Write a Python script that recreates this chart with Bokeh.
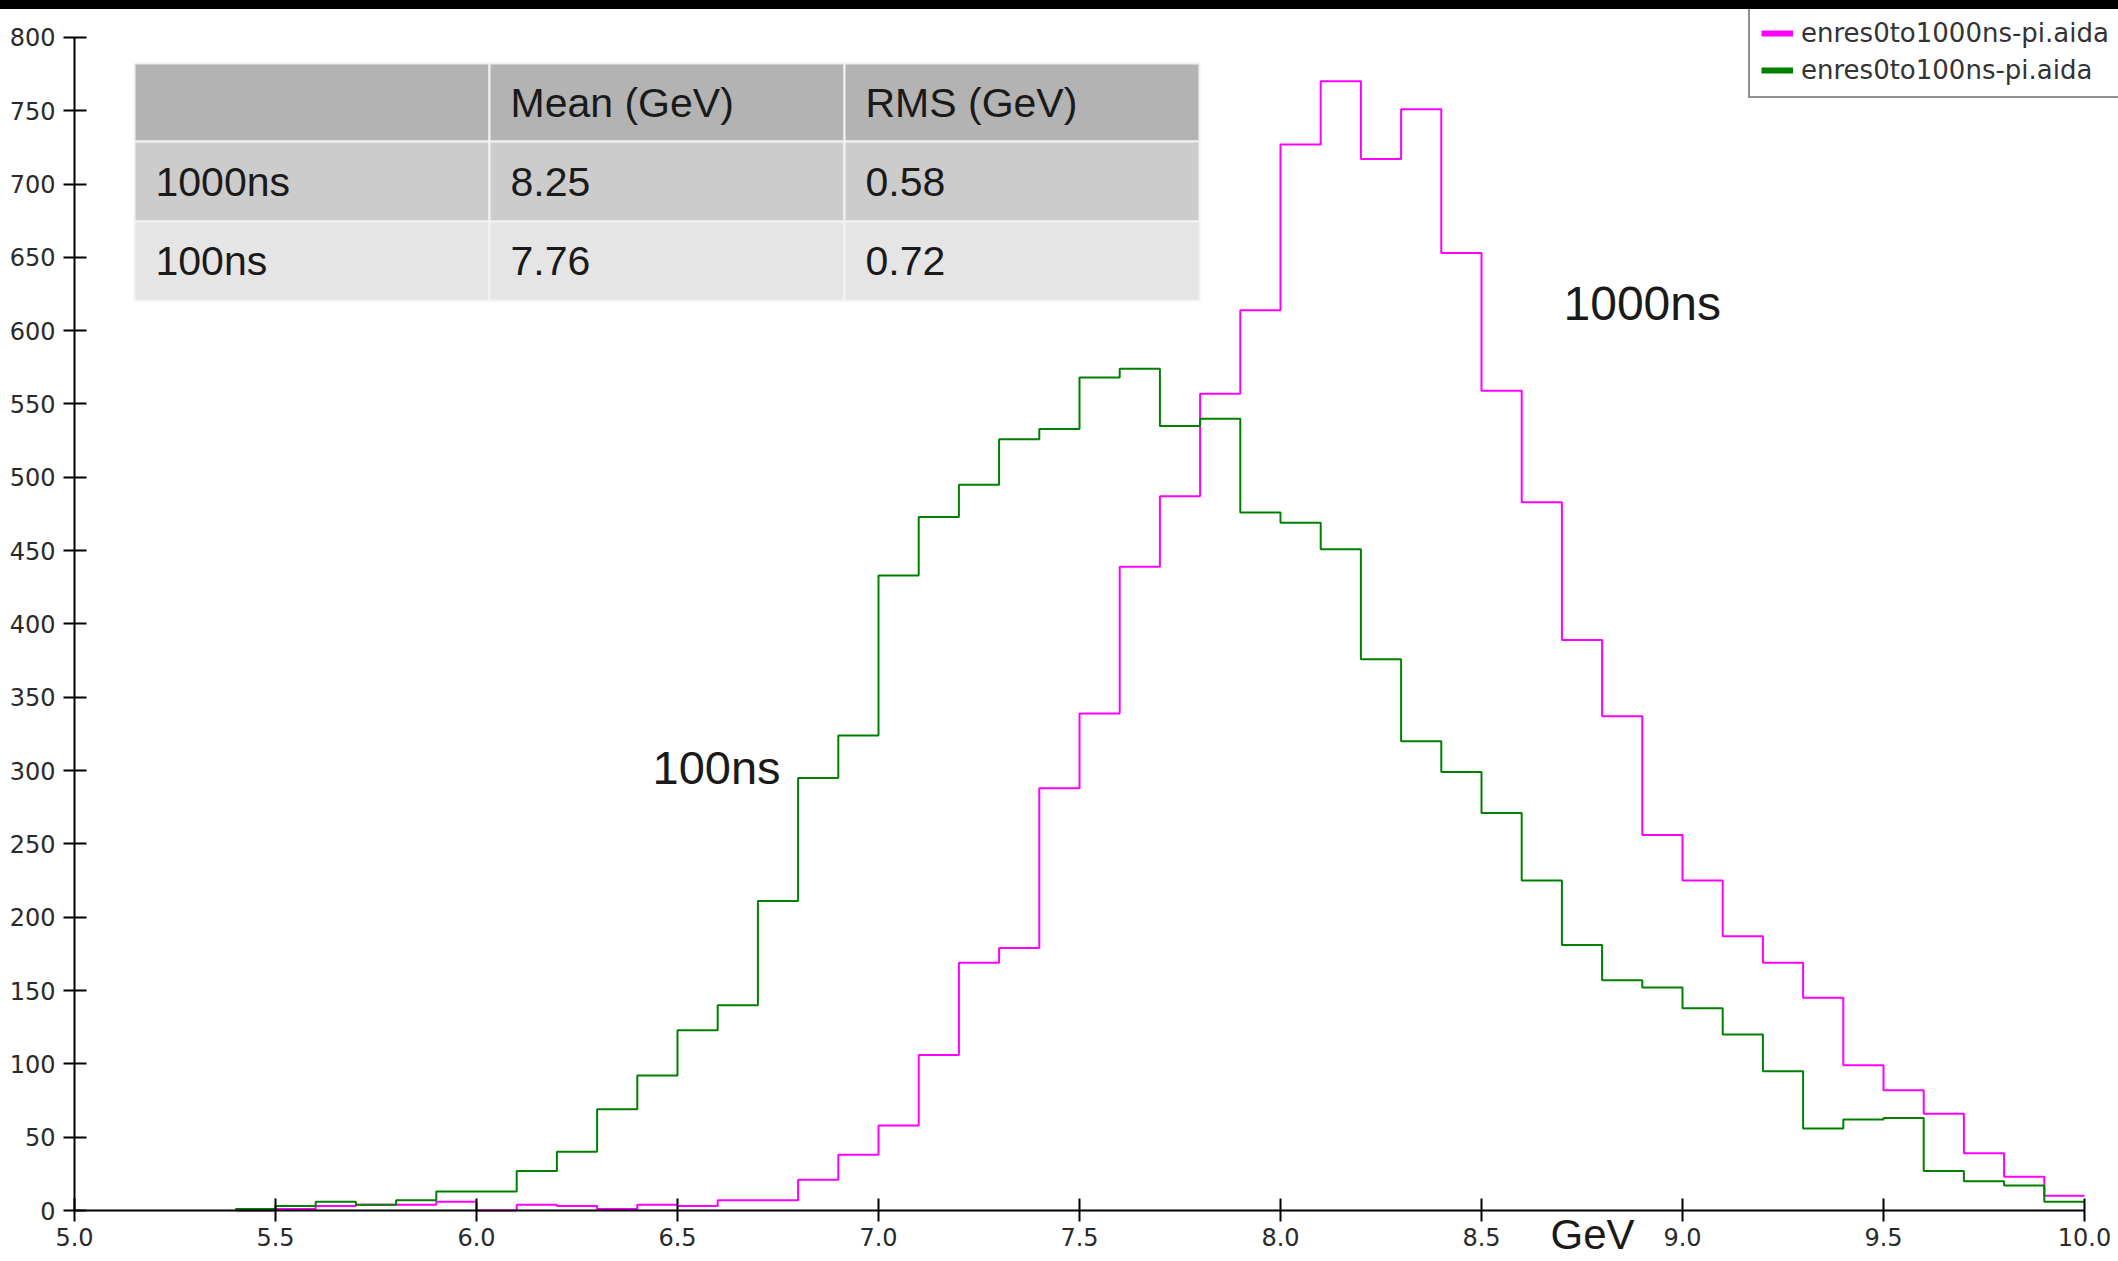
from bokeh.plotting import figure
from bokeh.models import (Range1d, Div, Legend, LegendItem, Label, ColumnDataSource,
                          SingleIntervalTicker, PrintfTickFormatter)
from bokeh.layouts import column
from bokeh.core.properties import value
from bokeh.embed import file_html
from bokeh.resources import INLINE

# ---------------- data ----------------
bin_lo = [5.4, 5.5, 5.6, 5.7, 5.8, 5.9, 6.0, 6.1, 6.2, 6.3, 6.4, 6.5, 6.6, 6.7, 6.8, 6.9,
          7.0, 7.1, 7.2, 7.3, 7.4, 7.5, 7.6, 7.7, 7.8, 7.9, 8.0, 8.1, 8.2, 8.3, 8.4, 8.5,
          8.6, 8.7, 8.8, 8.9, 9.0, 9.1, 9.2, 9.3, 9.4, 9.5, 9.6, 9.7, 9.8, 9.9]
bin_hi_last = 10.0

counts_1000ns = [0, 1, 3, 4, 4, 6, 0, 4, 3, 1, 4, 3, 7, 7, 21, 38,
                 58, 106, 169, 179, 288, 339, 439, 487, 557, 614, 727, 770, 717, 751, 653, 559,
                 483, 389, 337, 256, 225, 187, 169, 145, 99, 82, 66, 39, 23, 10]
counts_100ns = [1, 3, 6, 4, 7, 13, 13, 27, 40, 69, 92, 123, 140, 211, 295, 324,
                433, 473, 495, 526, 533, 568, 574, 535, 540, 476, 469, 451, 376, 320, 299, 271,
                225, 181, 157, 152, 138, 120, 95, 56, 62, 63, 27, 20, 17, 6]

series_names = ["enres0to1000ns-pi.aida", "enres0to100ns-pi.aida"]

table_header = ["", "Mean (GeV)", "RMS (GeV)"]
table_rows = ["1000ns", "100ns"]
table_mean = ["8.25", "7.76"]
table_rms = ["0.58", "0.72"]

curve_labels = ["100ns", "1000ns"]
x_unit = "GeV"

# ---------------- layout (pixels) ----------------
W = 2118
H_PAGE = 1261
BAND = 9
H_FIG = H_PAGE - BAND
AXIS_X_PX = 74              # page x of 5.0 GeV
ZERO_FULL = 1210            # page y of value 0
X0, X_PER_PX = 5.0, 1.0 / 402.0
Y_PER_PX = 1.0 / 1.4664


def px_x(full_x):
    return X0 + (full_x - AXIS_X_PX) * X_PER_PX


def px_y(full_y):
    return (ZERO_FULL - full_y) * Y_PER_PX


BODY = "Liberation Sans"
TICKFONT = "DejaVu Sans"

p = figure(width=W, height=H_FIG, output_backend="svg", toolbar_location=None,
           x_range=Range1d(px_x(0), px_x(W)), y_range=Range1d(px_y(H_PAGE), px_y(BAND)),
           min_border=0)
p.outline_line_color = None
p.xgrid.visible = False
p.ygrid.visible = False
p.background_fill_color = "white"
p.border_fill_color = "white"

# ---------------- histograms ----------------
x_steps = bin_lo + [bin_hi_last]
p.step(x_steps, counts_1000ns + [counts_1000ns[-1]], mode="after",
       line_color="#ff00ff", line_width=2)
p.step(x_steps, counts_100ns + [counts_100ns[-1]], mode="after",
       line_color="#008000", line_width=2)

# ---------------- axes ----------------
xa = p.xaxis[0]
xa.ticker = SingleIntervalTicker(interval=0.5)
xa.formatter = PrintfTickFormatter(format="%.1f")
xa.bounds = (5.0, 10.0)
xa.fixed_location = 0
ya = p.yaxis[0]
ya.ticker = SingleIntervalTicker(interval=50)
ya.bounds = (0, 800)
ya.fixed_location = 5.0
for ax, so in ((xa, 6), (ya, 8)):
    ax.axis_line_color = "black"
    ax.axis_line_width = 2
    ax.major_tick_line_color = "black"
    ax.major_tick_line_width = 2
    ax.major_tick_in = 12
    ax.major_tick_out = 11
    ax.minor_tick_line_color = None
    ax.major_label_text_font = TICKFONT
    ax.major_label_text_font_size = "24px"
    ax.major_label_text_color = "#2a2a2a"
    ax.major_label_standoff = so

# ---------------- stats table ----------------
col_edges = [134, 489, 844, 1199]
row_edges = [63, 141, 221, 300]
row_fills = ["#b3b3b3", "#cccccc", "#e5e5e5"]
cells = dict(left=[], right=[], top=[], bottom=[], fill=[])
for r in range(3):
    for c in range(3):
        cells["left"].append(px_x(col_edges[c]))
        cells["right"].append(px_x(col_edges[c + 1]))
        cells["top"].append(px_y(row_edges[r]))
        cells["bottom"].append(px_y(row_edges[r + 1]))
        cells["fill"].append(row_fills[r])
p.quad(left="left", right="right", top="top", bottom="bottom", fill_color="fill",
       line_color="#f2f2f2", line_width=2, source=ColumnDataSource(cells))

table_text = [table_header,
              [table_rows[0], table_mean[0], table_rms[0]],
              [table_rows[1], table_mean[1], table_rms[1]]]
tt = dict(x=[], y=[], text=[])
for r in range(3):
    for c in range(3):
        if table_text[r][c]:
            tt["x"].append(px_x(col_edges[c] + 21))
            tt["y"].append(px_y((row_edges[r] + row_edges[r + 1]) / 2))
            tt["text"].append(table_text[r][c])
p.text(x="x", y="y", text="text", source=ColumnDataSource(tt),
       text_font=value(BODY), text_font_size="41px", text_color="#1a1a1a",
       text_align="left", text_baseline="middle")

# ---------------- curve labels ----------------
p.add_layout(Label(x=px_x(652), y=px_y(767), text=curve_labels[0], text_font=BODY,
                   text_font_size="47px", text_color="#1a1a1a", text_baseline="middle"))
p.add_layout(Label(x=px_x(1563), y=px_y(303), text=curve_labels[1], text_font=BODY,
                   text_font_size="48px", text_color="#1a1a1a", text_baseline="middle"))
p.add_layout(Label(x=px_x(1550), y=px_y(1234), text=x_unit, text_font=BODY,
                   text_font_size="42px", text_color="#1a1a1a", text_baseline="middle"))

# ---------------- legend ----------------
off_x = [0.0, 0.1]
off_y = [-500.0, -500.0]
dm = p.line(off_x, off_y, line_color="#ff00ff", line_width=6)
dg = p.line(off_x, off_y, line_color="#008000", line_width=6)
legend = Legend(items=[LegendItem(label=series_names[0], renderers=[dm]),
                       LegendItem(label=series_names[1], renderers=[dg])],
                location=(1748, H_PAGE - 98), margin=0,
                glyph_width=32, glyph_height=30, label_height=30, spacing=7, padding=11,
                label_standoff=8, border_line_color="#222222", border_line_width=2,
                background_fill_color="white", background_fill_alpha=1.0,
                label_text_font=TICKFONT, label_text_font_size="26px",
                label_text_color="#333333")
p.add_layout(legend)

band = Div(width=W, height=BAND, margin=0, styles={"background-color": "black"})
page = column(band, p, spacing=0)

open("out.html", "w").write(file_html(page, INLINE))
